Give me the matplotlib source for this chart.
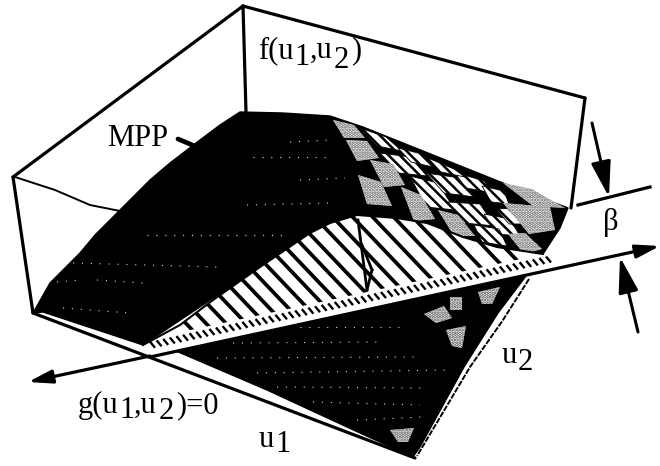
import numpy as np
import matplotlib
matplotlib.use("Agg")
import matplotlib.pyplot as plt
from matplotlib.patches import Polygon, FancyArrowPatch

plt.rcParams['font.family'] = ['Liberation Serif', 'DejaVu Serif']
plt.rcParams['hatch.linewidth'] = 1.8

# Diagram geometry, in picture pixels
box_lines = [
    [(13, 177), (243, 6)], [(243, 6), (585, 98)], [(585, 98), (571, 208)],
    [(13, 177), (33, 313)], [(33, 313), (415, 458)], [(243, 6), (246, 112)],
]
back_line = [(15, 177), (55, 190), (90, 205), (120, 211)]
surface_top = [(37, 306), (50, 283), (80, 253), (95, 235), (117, 213), (133, 197), (150, 180),
               (170, 163), (200, 140), (220, 125), (240, 112), (283, 113), (330, 116),
               (363, 127), (413, 147), (463, 167), (513, 187), (568, 208), (560, 228),
               (543, 254), (500, 250), (463, 240), (397, 222), (300, 240), (143, 345),
               (43, 312), (33, 313)]
curve_top = [(143, 345), (180, 325), (213, 300), (260, 267), (310, 233), (330, 223),
             (357, 215), (397, 218), (427, 223), (463, 237), (497, 247), (543, 254),
             (552, 256)]
g_line = [(28, 382), (660, 246)]
lower_black = [(176, 351), (183, 354), (267, 390), (360, 433), (413, 457), (420, 447),
               (464, 367), (498, 313), (526, 276)]
right_edge = [(529, 279), (503, 320), (470, 367), (417, 456)]
stripe_offsets = [-122, -102, -82, -62, -43, -24, -5, 14, 33, 50, 69, 87, 108, 126,
                  146, 166, 187, 206, 226, 249, 269]
white_cells = [
    [(360, 128), (386, 137), (402, 151), (377, 146)],
    [(380, 153), (410, 157), (427, 176), (399, 173)],
    [(410, 176), (438, 183), (455, 210), (426, 207)],
    [(426, 173), (460, 178), (475, 197), (444, 193)],
    [(454, 172), (484, 181), (493, 193), (466, 188)],
    [(448, 202), (480, 204), (495, 226), (464, 223)],
    [(482, 186), (504, 191), (509, 204), (491, 202)],
    [(484, 214), (510, 219), (520, 236), (497, 234)],
    [(474, 225), (499, 229), (507, 246), (482, 242)],
    [(496, 209), (520, 208), (527, 224), (509, 224)],
    [(428, 158), (454, 169), (465, 177), (441, 172)],
    [(398, 148), (422, 154), (433, 167), (411, 162)],
]
stipple_cells = [
    [(346, 140), (367, 141), (379, 158), (357, 161)],
    [(370, 160), (393, 164), (405, 185), (384, 187)],
    [(358, 175), (381, 182), (392, 206), (367, 204)],
    [(401, 187), (421, 195), (435, 219), (414, 221)],
    [(438, 210), (458, 215), (475, 236), (454, 236)],
    [(508, 234), (525, 233), (542, 249), (524, 254)],
    [(503, 183), (532, 189), (565, 208), (533, 206)],
    [(503, 203), (550, 207), (555, 230), (529, 234)],
    [(333, 120), (354, 125), (365, 138), (344, 138)],
]
lower_stipple = [
    [(424, 314), (444, 306), (452, 318), (436, 323)],
    [(450, 297), (462, 297), (462, 310), (450, 310)],
    [(446, 330), (466, 326), (462, 348), (452, 346)],
    [(478, 292), (500, 287), (492, 304), (482, 304)],
    [(390, 430), (414, 428), (408, 442), (398, 442)],
]
speck_rows = [
    [(300, 327), (400, 327)], [(233, 343), (383, 342)], [(217, 358), (417, 357)],
    [(257, 373), (447, 370)], [(277, 387), (427, 388)], [(313, 402), (420, 405)],
    [(357, 420), (423, 417)],
    [(57, 282), (80, 280)], [(63, 308), (130, 313)], [(73, 263), (217, 267)],
    [(97, 280), (143, 283)], [(147, 235), (287, 235)], [(247, 205), (330, 203)],
    [(253, 157), (330, 157)], [(290, 142), (330, 140)], [(300, 180), (345, 178)],
]
mpp_lines = [[(358, 220), (367, 290)], [(367, 290), (372, 270)], [(372, 270), (362, 245)]]

TXT = [("MPP", 107, 146), ("f(u", 258, 58), ("1", 294, 65), (",u", 310, 58),
       ("2", 334, 68), (")", 351, 58),
       ("\u03b2", 603, 230), ("u", 502, 363), ("2", 518, 370),
       ("u", 259, 447), ("1", 275, 452),
       ("g(u", 78, 413), ("1", 119, 418), (",u", 134, 413), ("2", 159, 419),
       (")=0", 176, 413)]

fig = plt.figure(figsize=(6.6, 4.66), dpi=100)
ax = fig.add_axes([0, 0, 1, 1])
ax.set_xlim(0, 660)
ax.set_ylim(466, 0)
ax.axis('off')

def gy(x):
    (x0, y0), (x1, y1) = g_line
    return y0 + (y1 - y0) * (np.asarray(x) - x0) / (x1 - x0)

# upper surface
ax.add_patch(Polygon(surface_top, closed=True, fc='black', ec='black', lw=1, zorder=2))
for c in white_cells:
    ax.add_patch(Polygon(c, closed=True, fc='white', ec='black', hatch='\\\\\\', lw=0.6, zorder=3))
for c in stipple_cells:
    ax.add_patch(Polygon(c, closed=True, fc='white', ec='#666666', hatch='.....', lw=0, zorder=3))

# hatched area under the curve, down to g = 0
xs, ys = zip(*curve_top)
band = list(curve_top) + [(552, float(gy(552)) - 3), (143, float(gy(143)) - 3)]
ax.add_patch(Polygon(band, closed=True, fc='white', ec='none', zorder=4))
main = list(curve_top) + [(552, float(gy(552)) - 17), (143, float(gy(143)) - 17)]
clip = Polygon(main, closed=True, transform=ax.transData)
for c in stripe_offsets:
    yy = np.array([150.0, 400.0])
    ln, = ax.plot(c + yy / 1.05, yy, color='black', lw=2.7, zorder=5, solid_capstyle='butt')
    ln.set_clip_path(clip)
ax.plot(xs[:-1], ys[:-1], color='black', lw=1.5, zorder=5)
for x in np.arange(150, 548, 6.6):
    y = float(gy(x))
    ax.plot([x, x + 5], [y - 14, y - 8], color='black', lw=1.7, zorder=5, solid_capstyle='butt')
for a, b in mpp_lines:
    ax.plot([a[0], b[0]], [a[1], b[1]], color='black', lw=2, zorder=6)

# lower surface
ax.add_patch(Polygon(lower_black, closed=True, fc='black', ec='black', lw=1, zorder=4))
for p in lower_stipple:
    ax.add_patch(Polygon(p, closed=True, fc='white', ec='#555555', hatch='.....', lw=0, zorder=4.6))
ax.plot(*zip(*right_edge), color='black', lw=1.4, ls=(0, (3, 0.7)), zorder=4)

# fine light specks along the surface grid
for a, b in speck_rows:
    ax.plot([a[0], b[0]], [a[1], b[1]], color='#d8d8d8', lw=0.8, ls=(0, (1, 7)), zorder=4.5)

# box
for a, b in box_lines:
    ax.plot([a[0], b[0]], [a[1], b[1]], color='black', lw=2.3, zorder=7, solid_capstyle='round')
ax.plot(*zip(*back_line), color='black', lw=1.4, zorder=1)

# arrows
def arrow(a, b, lw=2.2, ms=24):
    ax.add_patch(FancyArrowPatch(a, b, arrowstyle='-|>,head_length=0.9,head_width=0.25',
                                 mutation_scale=ms, lw=lw,
                                 color='black', zorder=8, shrinkA=0, shrinkB=0))
arrow((150, 357), g_line[1], lw=2.3, ms=16)
arrow((150, 356), g_line[0], lw=2.3, ms=16)
arrow((592, 123), (609, 197))
arrow((638, 332), (620, 257))
ax.plot([578, 650], [205, 187], color='black', lw=2.3, zorder=8)
ax.plot([178, 197], [139, 147], color='black', lw=3.4, zorder=8, solid_capstyle='round')

for s, x, y in TXT:
    ax.text(x, y, s, fontsize=22, ha='left', va='baseline', color='black', zorder=9)

fig.savefig('out.png', dpi=100)
